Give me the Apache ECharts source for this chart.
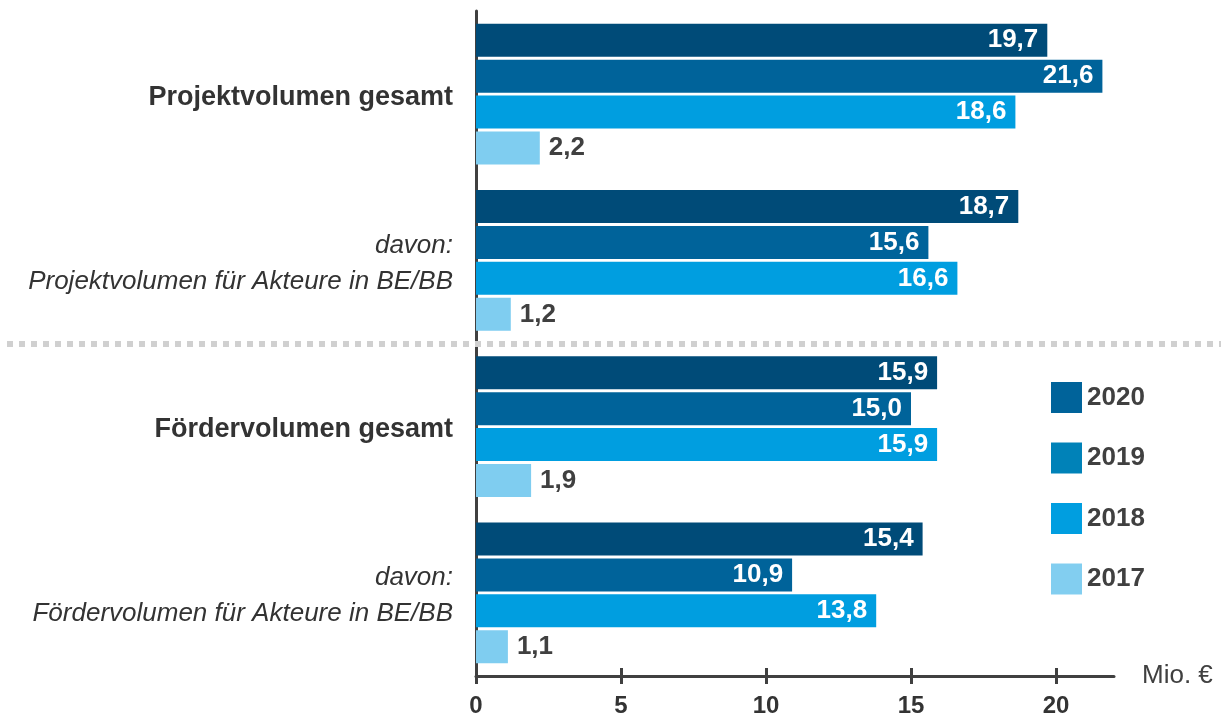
<!DOCTYPE html>
<html>
<head>
<meta charset="utf-8">
<script src="https://cdn.jsdelivr.net/npm/echarts@6/dist/echarts.min.js"></script>
<style>
	html, body { margin: 0; padding: 0; background: #fff; }
	#chart { width: 1221px; height: 720px; }
</style>
</head>
<body>
<div id="chart"></div>
<script>
	var categories = [
		'Projektvolumen gesamt',
		'davon:\nProjektvolumen für Akteure in BE/BB',
		'Fördervolumen gesamt',
		'davon:\nFördervolumen für Akteure in BE/BB'
	];
	var years = ['2020', '2019', '2018', '2017'];
	var values2020 = [19.7, 18.7, 15.9, 15.4];
	var values2019 = [21.6, 15.6, 15.0, 10.9];
	var values2018 = [18.6, 16.6, 15.9, 13.8];
	var values2017 = [2.2, 1.2, 1.9, 1.1];
	var xTicks = [0, 5, 10, 15, 20];

	var font = 'Liberation Sans, Arial, sans-serif';
	var barColors = ['#004b78', '#00639a', '#009ee0', '#7fcdf0'];
	var legendColors = ['#00639a', '#0082b8', '#009ee0', '#82cef0'];
	var allValues = [values2020, values2019, values2018, values2017];

	var seriesData = [];
	for (var k = 0; k < years.length; k++) {
		var outside = (k === 3);
		seriesData.push({
			name: years[k],
			type: 'bar',
			barWidth: 33,
			barGap: '9%',
			itemStyle: { color: barColors[k] },
			label: {
				show: true,
				position: outside ? 'right' : 'insideRight',
				distance: 9,
				color: outside ? '#404040' : '#fff',
				fontFamily: font,
				fontWeight: 'bold',
				fontSize: 26,
				formatter: function (p) {
					return p.value.toFixed(1).replace('.', ',');
				}
			},
			data: allValues[k]
		});
	}

	var chart = echarts.init(document.getElementById('chart'));
	var option = {
		backgroundColor: '#fff',
		animation: false,
		grid: {
			left: 476,
			right: 107,
			top: 11,
			bottom: 44
		},
		legend: {
			orient: 'vertical',
			left: 1051,
			top: 382,
			padding: 0,
			itemWidth: 31,
			itemHeight: 31,
			itemGap: 29.5,
			icon: 'rect',
			data: years.map(function (y, i) {
				return { name: y, itemStyle: { color: legendColors[i] } };
			}),
			textStyle: {
				color: '#404040',
				fontFamily: font,
				fontWeight: 'bold',
				fontSize: 26
			}
		},
		xAxis: [{
			type: 'value',
			min: 0,
			max: 22,
			name: 'Mio. €',
			nameLocation: 'end',
			nameGap: 28,
			nameTextStyle: {
				color: '#404040',
				fontFamily: font,
				fontSize: 26
			},
			axisLine: { show: true, lineStyle: { color: '#404040', width: 3 } },
			axisTick: { show: true, length: 8, customValues: xTicks, lineStyle: { color: '#404040', width: 3 } },
			axisLabel: {
				customValues: xTicks,
				margin: 18,
				color: '#333',
				fontFamily: font,
				fontWeight: 'bold',
				fontSize: 24
			},
			splitLine: { show: false }
		}, {
			type: 'value',
			position: 'bottom',
			min: 0,
			max: 22,
			axisLine: { show: false },
			axisTick: { show: true, inside: true, length: 8, customValues: xTicks, lineStyle: { color: '#404040', width: 3 } },
			axisLabel: { show: false },
			splitLine: { show: false }
		}],
		yAxis: {
			type: 'category',
			inverse: true,
			data: categories,
			axisLine: { show: true, lineStyle: { color: '#404040', width: 3 } },
			axisTick: { show: false },
			axisLabel: {
				margin: 23,
				padding: [6, 0, 0, 0],
				formatter: function (v) {
					if (v.indexOf('davon') === 0) {
						return v.split('\n').map(function (s) { return '{i|' + s + '}'; }).join('\n');
					}
					return '{b|' + v + '}';
				},
				rich: {
					b: { color: '#333', fontFamily: font, fontWeight: 'bold', fontSize: 27 },
					i: { color: '#333', fontFamily: font, fontStyle: 'italic', fontSize: 26, lineHeight: 36 }
				}
			}
		},
		graphic: [{
			type: 'line',
			z: 100,
			shape: { x1: 7, y1: 344, x2: 1221, y2: 344 },
			style: { stroke: '#d0d0d0', lineWidth: 6, lineDash: [6, 6] }
		}],
		series: seriesData
	};
	chart.setOption(option);
</script>
</body>
</html>
